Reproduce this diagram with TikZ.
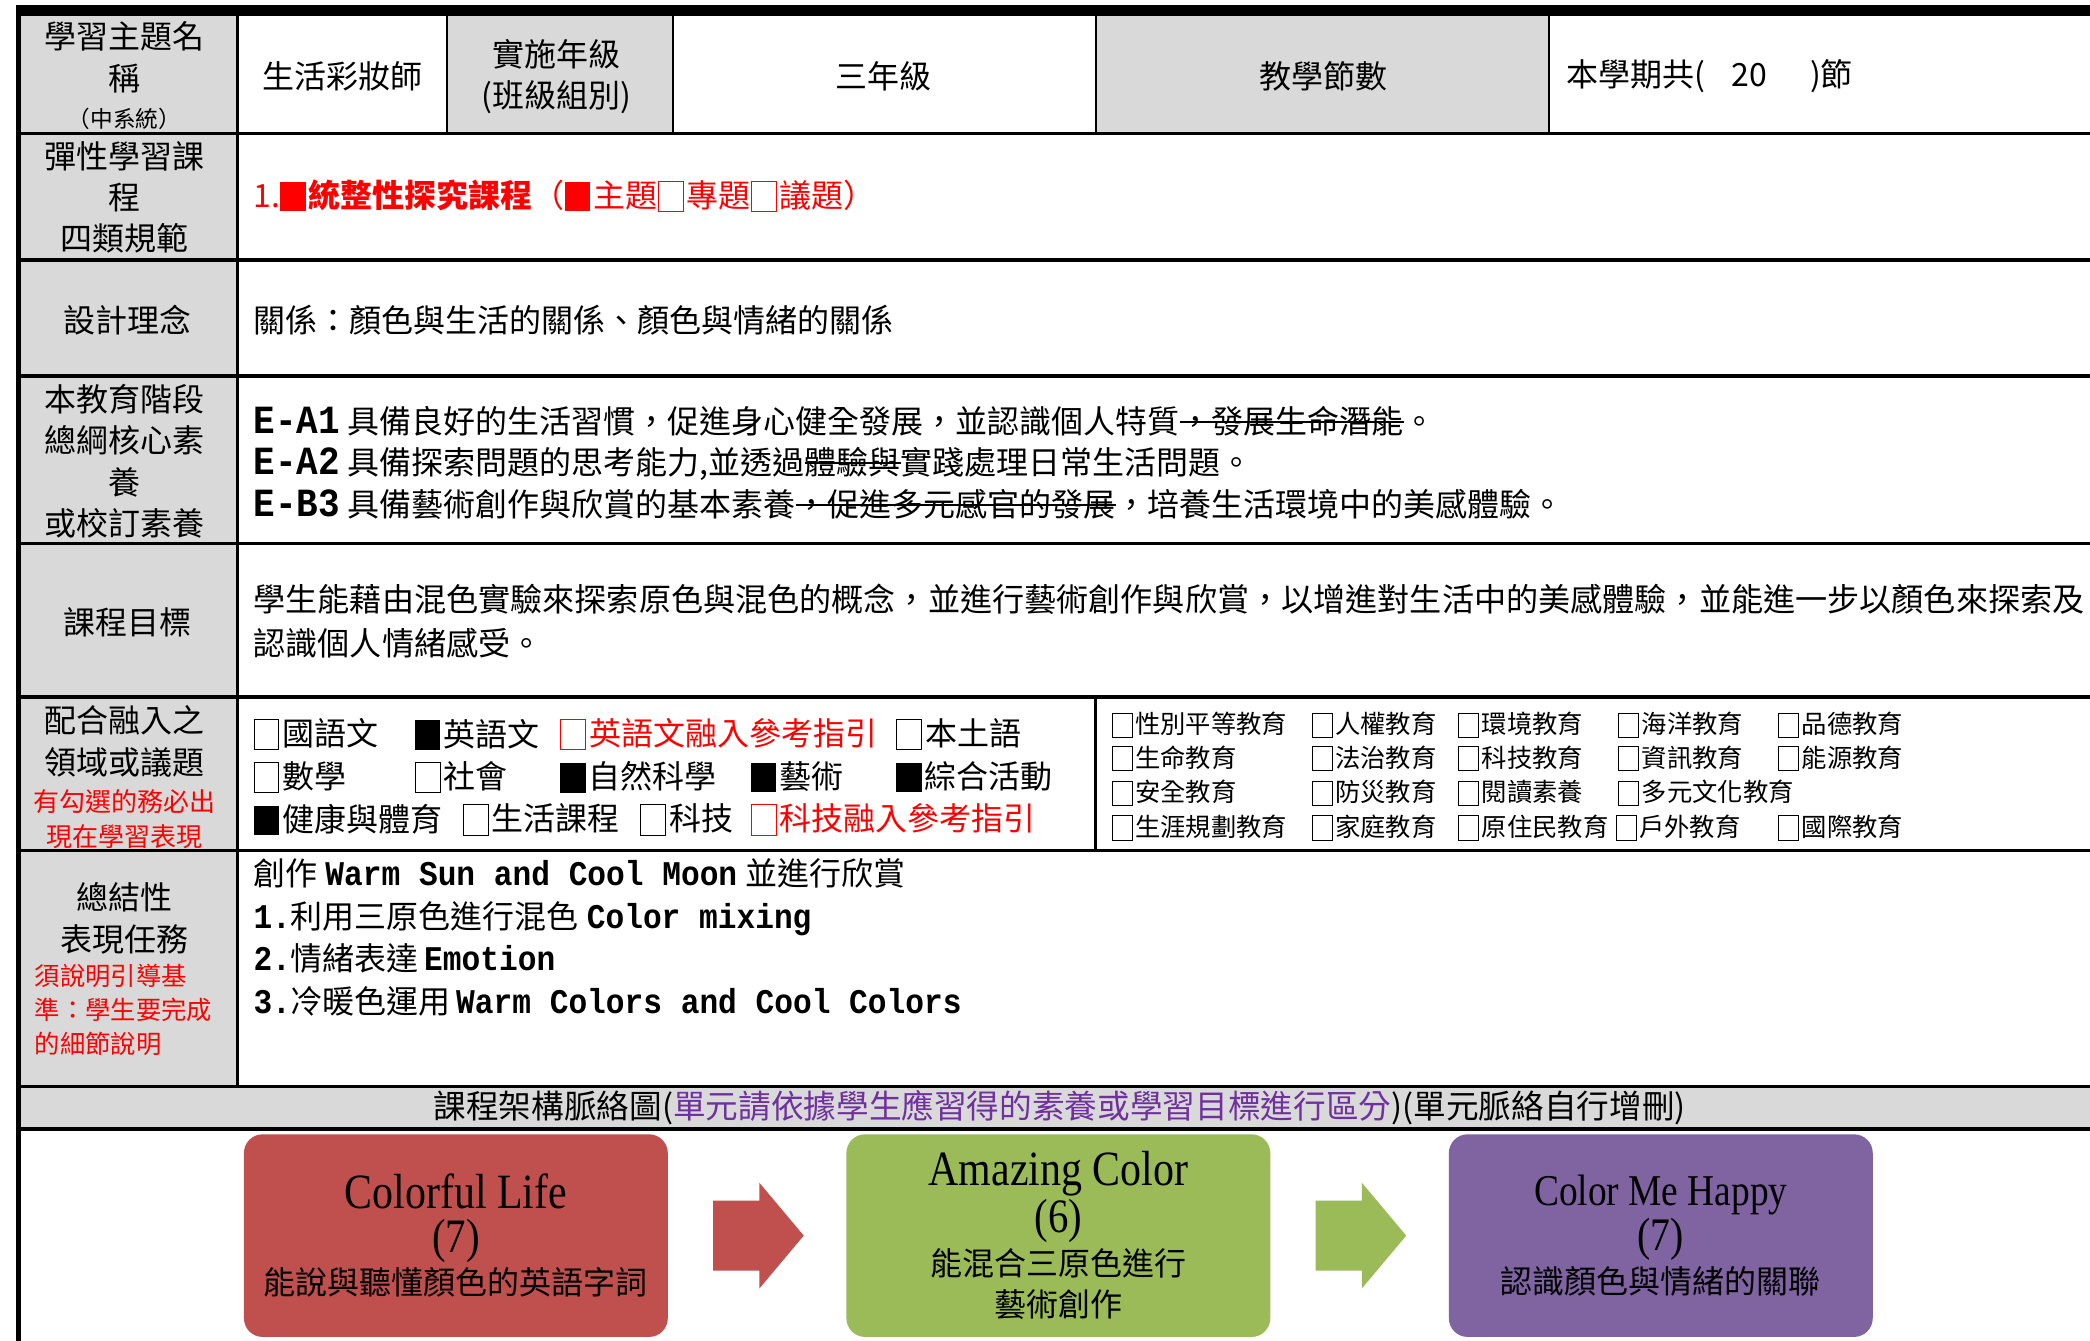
\documentclass[tikz,border=0pt]{standalone}
\usepackage{fontspec}
\usepackage{xcolor}
\usetikzlibrary{shapes.arrows,calc}
\setmainfont{Noto Sans CJK TC}
\newfontfamily\codefont{Liberation Mono}[FakeStretch=0.9]
\newfontfamily\titlefont{Liberation Serif}[FakeStretch=0.85]

\definecolor{cellgray}{HTML}{D9D9D9}
\definecolor{unitred}{HTML}{C0504D}
\definecolor{unitgreen}{HTML}{9BBB59}
\definecolor{unitpurple}{HTML}{8064A2}
\definecolor{hintpurple}{HTML}{7030A0}

\newcommand{\boxon}{\rule[-0.12em]{0.8em}{0.92em}\hspace{0.1em}}
\newcommand{\boxoff}{{\setlength{\fboxsep}{0pt}\setlength{\fboxrule}{0.7pt}\fbox{\rule[-0.12em]{0pt}{0.92em}\hspace{0.75em}}}\hspace{0.1em}}
\newcommand{\entext}[1]{{\codefont\bfseries #1}}
\newsavebox{\strikebox}
\newcommand{\strike}[1]{\sbox\strikebox{#1}\rlap{\rule[0.33em]{\wd\strikebox}{1.3pt}}\usebox\strikebox}

\begin{document}
\begin{tikzpicture}[x=1pt,y=-1pt]
\tikzstyle{every node}=[inner sep=0pt, font=\fontsize{24}{31}\selectfont];
\tikzstyle{cell}=[anchor=center, align=center];
\tikzstyle{txt}=[anchor=west, align=left];
\tikzstyle{topic}=[anchor=west, font=\fontsize{19}{25}\selectfont];
\tikzstyle{unit}=[rounded corners=14pt, minimum width=318pt, minimum height=152pt, align=center];
\tikzstyle{link}=[single arrow, text height=26pt, text depth=26pt, minimum height=68pt, single arrow head extend=13.5pt, single arrow tip angle=100, xshift=-10pt];

\useasboundingbox (0,0) rectangle (1568,1006);
\fill[white] (0,0) rectangle (1568,1006);

% grey header cells
\fill[cellgray] (16,12) rectangle (178,815);
\fill[cellgray] (335,12) rectangle (505,100);
\fill[cellgray] (822,12) rectangle (1162,100);
\fill[cellgray] (16,815) rectangle (1568,847);

% frame and rules
\fill (12,4) rectangle (1568,12);
\fill (12,4) rectangle (16,1006);
\draw[line width=2.5pt] (16,100) -- (1568,100) (16,195) -- (1568,195)
  (16,282) -- (1568,282) (16,408) -- (1568,408) (16,523) -- (1568,523)
  (16,638) -- (1568,638) (16,815) -- (1568,815) (16,847) -- (1568,847);
\draw[line width=2pt] (178,12) -- (178,815) (822,523) -- (822,638);
\draw[line width=1.5pt] (335,12) -- (335,100) (505,12) -- (505,100)
  (822,12) -- (822,100) (1162,12) -- (1162,100);

% row 1
\node[cell] (name-lbl) at (96,60) {
\begin{tabular}{c}
學習主題名\\
稱\\[-3pt]
{\fontsize{17}{28}\selectfont （中系統）}
\end{tabular}
};
\node[cell] (name) at (257,57) {生活彩妝師};
\node[cell] (grade-lbl) at (420,59) {
\begin{tabular}{c}
實施年級\\
(班級組別)
\end{tabular}
};
\node[cell] (grade) at (663,57) {三年級};
\node[cell] (period-lbl) at (993,57) {教學節數};
\node[txt] (period) at (1175,57) {本學期共(\hspace{20pt}20\hspace{32pt})節};

% row 2
\node[cell] (course-lbl) at (96,151) {
\begin{tabular}{c}
彈性學習課\\
程\\
四類規範
\end{tabular}
};
\node[txt, text=red] (course) at (190,147) {1.\boxon\textbf{統整性探究課程}（\boxon 主題\boxoff 專題\boxoff 議題）};

% row 3
\node[cell] (idea-lbl) at (96,240) {設計理念};
\node[txt] (idea) at (190,240) {關係：顏色與生活的關係、顏色與情緒的關係};

% row 4
\node[cell] (core-lbl) at (96,349) {
\begin{tabular}{c}
本教育階段\\
總綱核心素\\
養\\
或校訂素養
\end{tabular}
};
\node[txt] (core) at (190,350) {
\begin{tabular}{@{}l@{}}
{\codefont\bfseries\fontsize{30}{31}\selectfont E-A1}\hspace{6pt}具備良好的生活習慣，促進身心健全發展，並認識個人特質\strike{，發展生命潛能}。\\
{\codefont\bfseries\fontsize{30}{31}\selectfont E-A2}\hspace{6pt}具備探索問題的思考能力,並透過\strike{體驗與}實踐處理日常生活問題。\\
{\codefont\bfseries\fontsize{30}{31}\selectfont E-B3}\hspace{6pt}具備藝術創作與欣賞的基本素養\strike{，促進多元感官的發展}，培養生活環境中的美感體驗。
\end{tabular}
};

% row 5
\node[cell] (goal-lbl) at (96,467) {課程目標};
\node[txt, font=\fontsize{24.1}{33}\selectfont] (goal) at (190,469) {
\begin{tabular}{@{}l@{}}
學生能藉由混色實驗來探索原色與混色的概念，並進行藝術創作與欣賞，以增進對生活中的美感體驗，並能進一步以顏色來探索及\\
認識個人情緒感受。
\end{tabular}
};

% row 6
\node[cell] (field-lbl) at (96,586) {
\begin{tabular}{c}
配合融入之\\
領域或議題\\[-3pt]
{\color{red}\fontsize{19.5}{26}\selectfont 有勾選的務必出}\\[-5pt]
{\color{red}\fontsize{19.5}{26}\selectfont 現在學習表現}
\end{tabular}
};
\node[txt] (dom-chn) at (190,551) {\boxoff 國語文};
\node[txt] (dom-eng) at (311,551) {\boxon 英語文};
\node[txt, text=red] (dom-eng-ref) at (420,551) {\boxoff 英語文融入參考指引};
\node[txt] (dom-local) at (672,551) {\boxoff 本土語};
\node[txt] (dom-math) at (190,583) {\boxoff 數學};
\node[txt] (dom-soc) at (311,583) {\boxoff 社會};
\node[txt] (dom-sci) at (420,583) {\boxon 自然科學};
\node[txt] (dom-art) at (563,583) {\boxon 藝術};
\node[txt] (dom-act) at (672,583) {\boxon 綜合活動};
\node[txt] (dom-pe) at (190,615) {\boxon 健康與體育};
\node[txt] (dom-life) at (347,615) {\boxoff 生活課程};
\node[txt] (dom-tech) at (480,615) {\boxoff 科技};
\node[txt, text=red] (dom-tech-ref) at (563,615) {\boxoff 科技融入參考指引};

\node[topic] (iss-gender) at (834,544) {\boxoff 性別平等教育};
\node[topic] (iss-rights) at (984,544) {\boxoff 人權教育};
\node[topic] (iss-env) at (1094,544) {\boxoff 環境教育};
\node[topic] (iss-ocean) at (1214,544) {\boxoff 海洋教育};
\node[topic] (iss-moral) at (1334,544) {\boxoff 品德教育};
\node[topic] (iss-life) at (834,569) {\boxoff 生命教育};
\node[topic] (iss-law) at (984,569) {\boxoff 法治教育};
\node[topic] (iss-tech) at (1094,569) {\boxoff 科技教育};
\node[topic] (iss-info) at (1214,569) {\boxoff 資訊教育};
\node[topic] (iss-energy) at (1334,569) {\boxoff 能源教育};
\node[topic] (iss-safety) at (834,595) {\boxoff 安全教育};
\node[topic] (iss-disaster) at (984,595) {\boxoff 防災教育};
\node[topic] (iss-reading) at (1094,595) {\boxoff 閱讀素養};
\node[topic] (iss-culture) at (1214,595) {\boxoff 多元文化教育};
\node[topic] (iss-career) at (834,621) {\boxoff 生涯規劃教育};
\node[topic] (iss-family) at (984,621) {\boxoff 家庭教育};
\node[topic] (iss-native) at (1094,621) {\boxoff 原住民教育};
\node[topic] (iss-outdoor) at (1212,621) {\boxoff 戶外教育};
\node[topic] (iss-global) at (1334,621) {\boxoff 國際教育};

% row 7
\node[cell] (task-lbl) at (96,692) {
\begin{tabular}{c}
總結性\\
表現任務
\end{tabular}
};
\node[anchor=west, text=red, font=\fontsize{19}{25.5}\selectfont] (task-note) at (26,760) {
\begin{tabular}{@{}l@{}}
須說明引導基\\
準：學生要完成\\
的細節說明
\end{tabular}
};
\node[txt, font=\fontsize{24}{32}\selectfont] (task) at (190,706) {
\begin{tabular}{@{}l@{}}
創作\hspace{6pt}{\fontsize{26}{32}\selectfont\entext{Warm Sun and Cool Moon}}\hspace{6pt}並進行欣賞\\
{\fontsize{26}{32}\selectfont\entext{1.}}利用三原色進行混色\hspace{6pt}{\fontsize{26}{32}\selectfont\entext{Color mixing}}\\
{\fontsize{26}{32}\selectfont\entext{2.}}情緒表達\hspace{4pt}{\fontsize{26}{32}\selectfont\entext{Emotion}}\\
{\fontsize{26}{32}\selectfont\entext{3.}}冷暖色運用\hspace{4pt}{\fontsize{26}{32}\selectfont\entext{Warm Colors and Cool Colors}}
\end{tabular}
};

% row 8
\node[cell, font=\fontsize{24.5}{31}\selectfont] (map-title) at (795,831) {課程架構脈絡圖(\textcolor{hintpurple}{單元請依據學生應習得的素養或學習目標進行區分})(單元脈絡自行增刪)};

% units
\node[unit, fill=unitred] (unit-life) at (342,927) {{\titlefont\fontsize{37}{31}\selectfont Colorful Life}\\[2pt]{\titlefont\fontsize{36}{31}\selectfont (7)}\\[1pt]能說與聽懂顏色的英語字詞};
\node[unit, fill=unitgreen] (unit-mix) at (794,927) {{\titlefont\fontsize{37}{31}\selectfont Amazing Color}\\[1pt]{\titlefont\fontsize{36}{31}\selectfont (6)}\\[1pt]能混合三原色進行\\藝術創作};
\node[unit, fill=unitpurple] (unit-mood) at (1246,927) {{\titlefont\fontsize{33}{31}\selectfont Color Me Happy}\\[1pt]{\titlefont\fontsize{35}{31}\selectfont (7)}\\[1pt]認識顏色與情緒的關聯};

\node[link, fill=unitred] (step-1) at ($(unit-life.east)!0.5!(unit-mix.west)$) {};
\node[link, fill=unitgreen] (step-2) at ($(unit-mix.east)!0.5!(unit-mood.west)$) {};
\end{tikzpicture}
\end{document}
